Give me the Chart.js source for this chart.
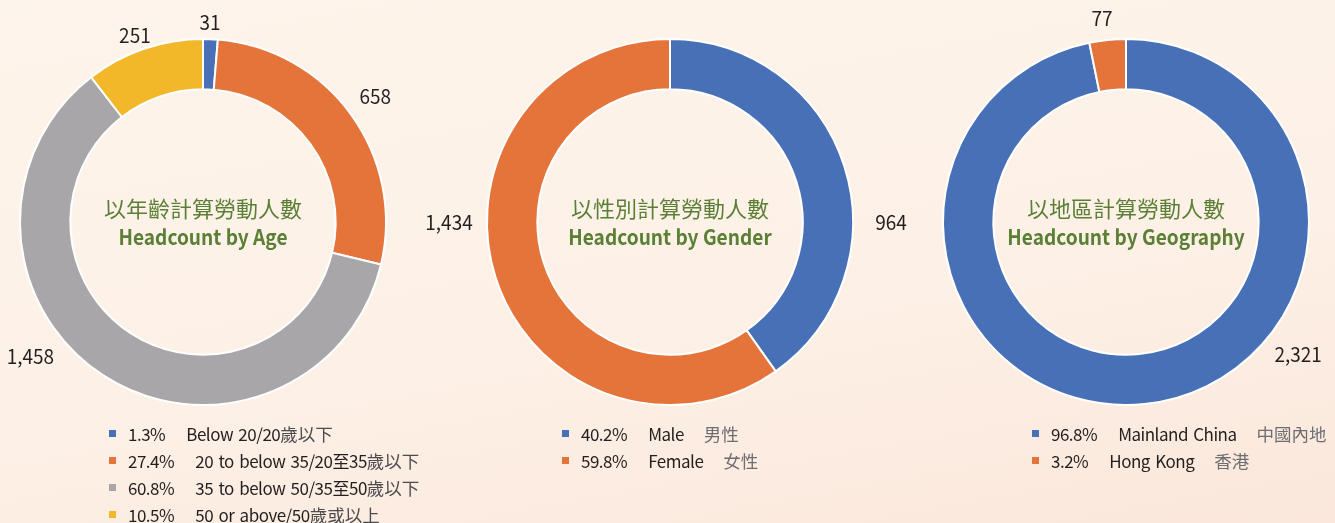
<!DOCTYPE html>
<html>
<head>
<meta charset="utf-8">
<script src="https://cdn.jsdelivr.net/npm/chart.js@4.4.1/dist/chart.umd.min.js"></script>
<style>
  html, body { margin: 0; padding: 0; }
  body {
    width: 1335px; height: 523px; overflow: hidden; position: relative;
    background: linear-gradient(170deg, #fdf4eb 0%, #fdf1e7 55%, #fbe7db 100%);
    font-family: "Noto Sans CJK TC", "Noto Sans", sans-serif;
    color: #231f20;
  }
  canvas { position: absolute; top: 0; }
  .legend { position: absolute; top: 420px; font-size: 17px; line-height: 27px; letter-spacing: -0.5px; word-spacing: 2px; }
  .legend div { display: flex; align-items: center; white-space: nowrap; }
  .legend i { width: 7px; height: 7px; margin-right: 12px; display: inline-block; }
  .legend .pct { margin-right: 21px; }
  .legend .zh { margin-left: 20px; color: #6d6e71; font-size: 17.5px; letter-spacing: 0; }
  .legend .zh1 { color: #4d4d4f; font-size: 17.5px; letter-spacing: 0; }
</style>
</head>
<body>
<canvas id="age" width="500" height="444" style="left:-47px"></canvas>
<canvas id="gender" width="500" height="444" style="left:420px"></canvas>
<canvas id="geo" width="500" height="444" style="left:876px"></canvas>
<div class="legend" id="ageLegend" style="left:109px"></div>
<div class="legend" id="genderLegend" style="left:562px"></div>
<div class="legend" id="geoLegend" style="left:1032px"></div>

<script>
// data
const ageLabelsEn = ["Below 20/20", "20 to below 35/20至35", "35 to below 50/35至50", "50 or above/50"];
const ageLabelsZh = ["歲以下", "歲以下", "歲以下", "歲或以上"];
const ageValues = [31, 658, 1458, 251];

const genderLabelsEn = ["Male", "Female"];
const genderLabelsZh = ["男性", "女性"];
const genderValues = [964, 1434];

const geoLabelsEn = ["Mainland China", "Hong Kong"];
const geoLabelsZh = ["中國內地", "香港"];
const geoValues = [2321, 77];

const blue = "#4770b7", orange = "#e5743a", grey = "#a8a6a9", yellow = "#f3b72a";

// draw text squeezed a little to imitate the condensed face
function narrowText(ctx, txt, x, y, sx) {
  ctx.save();
  ctx.translate(x, y);
  ctx.scale(sx, 1);
  ctx.fillText(txt, 0, 0);
  ctx.restore();
}

// centre titles + outside value labels
const donutText = {
  id: "donutText",
  afterDraw(chart, args, o) {
    const ctx = chart.ctx;
    const arc = chart.getDatasetMeta(0).data[0];
    const cx = arc.x, cy = arc.y;
    ctx.save();
    ctx.textAlign = "center";
    ctx.textBaseline = "alphabetic";
    ctx.fillStyle = "#5b7f35";
    ctx.font = '22px "Noto Sans CJK TC"';
    ctx.fillText(o.titleZh, cx, cy - 5);
    ctx.font = 'bold 21px "Noto Sans CJK TC"';
    narrowText(ctx, o.titleEn, cx, cy + 23, 0.91);

    ctx.fillStyle = "#231f20";
    ctx.font = '20px "Noto Sans CJK TC"';
    chart.data.datasets[0].data.forEach((v, i) => {
      const p = o.labelPos[i]; // [angle from top, distance]
      const a = p[0] * Math.PI / 180;
      narrowText(ctx, v.toLocaleString("en-US"), cx + p[1] * Math.sin(a), cy - p[1] * Math.cos(a) + 7.5, 0.95);
    });
    ctx.restore();
  }
};

function makeDonut(id, values, colors, titleZh, titleEn, labelPos) {
  return new Chart(document.getElementById(id), {
    type: "doughnut",
    data: {
      datasets: [{
        data: values,
        backgroundColor: colors,
        borderColor: "#ffffff",
        borderWidth: 2,
        hoverOffset: 0
      }]
    },
    options: {
      responsive: false,
      animation: false,
      events: [],
      radius: 183,
      cutout: "72.5%",
      layout: { padding: 0 },
      plugins: {
        legend: { display: false },
        tooltip: { enabled: false },
        donutText: { titleZh: titleZh, titleEn: titleEn, labelPos: labelPos }
      }
    },
    plugins: [donutText]
  });
}

makeDonut("age", ageValues, [blue, orange, grey, yellow],
  "以年齡計算勞動人數", "Headcount by Age",
  [[2, 200], [54, 213], [232, 219], [340, 199]]);
makeDonut("gender", genderValues, [blue, orange],
  "以性別計算勞動人數", "Headcount by Gender",
  [[90, 221], [270, 221]]);
makeDonut("geo", geoValues, [blue, orange],
  "以地區計算勞動人數", "Headcount by Geography",
  [[127.5, 217], [353.3, 205]]);

// html legends
function pct(values, i) {
  const total = values.reduce((a, b) => a + b, 0);
  return (values[i] / total * 100).toFixed(1) + "%";
}
function buildLegend(id, values, en, zh, colors, attached) {
  const el = document.getElementById(id);
  el.innerHTML = values.map((v, i) =>
    '<div><i style="background:' + colors[i] + '"></i>' +
    '<span class="pct">' + pct(values, i) + '</span>' +
    '<span>' + en[i] + '</span>' +
    '<span class="' + (attached ? "zh1" : "zh") + '">' + zh[i] + '</span></div>'
  ).join("");
}
buildLegend("ageLegend", ageValues, ageLabelsEn, ageLabelsZh, [blue, orange, grey, yellow], true);
buildLegend("genderLegend", genderValues, genderLabelsEn, genderLabelsZh, [blue, orange], false);
buildLegend("geoLegend", geoValues, geoLabelsEn, geoLabelsZh, [blue, orange], false);
</script>
</body>
</html>
